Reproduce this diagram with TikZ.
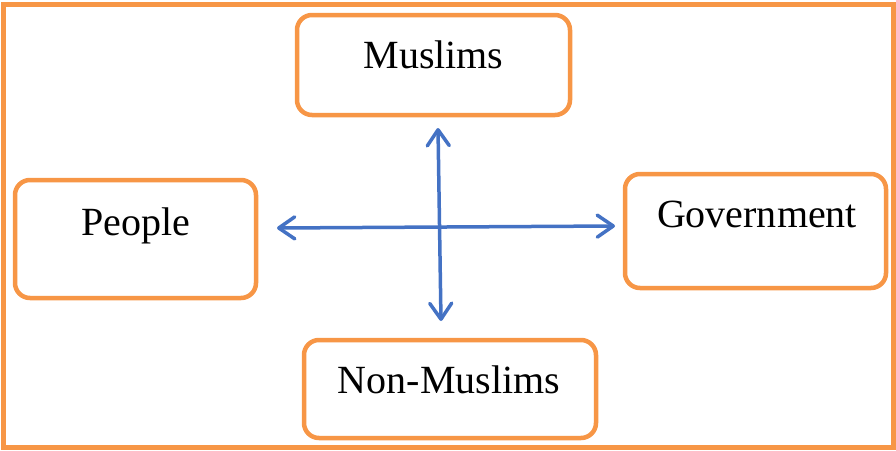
\documentclass[tikz,border=0pt]{standalone}
\usepackage{fontspec}
\setmainfont{Liberation Serif}
\usepackage{xcolor}
\usetikzlibrary{arrows.meta}
\definecolor{boxorange}{HTML}{F79646}
\definecolor{arrowblue}{HTML}{4472C4}

\begin{document}
\begin{tikzpicture}[x=1pt, y=-1pt,
    partybox/.style={draw=boxorange, line width=4.5pt, rounded corners=15pt, fill=white, inner sep=0pt},
    partytext/.style={anchor=base, inner sep=0pt, font=\fontsize{40}{40}\selectfont},
    link/.style={draw=arrowblue, line width=3.5pt, line cap=round,
      {Straight Barb[length=16pt, width=22pt, line width=3.5pt, round]}-{Straight Barb[length=16pt, width=22pt, line width=3.5pt, round]}}]
  \useasboundingbox (0,0) rectangle (896,450);
  \draw[boxorange, line width=5pt] (3,4.5) rectangle (893.5,447);
  % boxes
  \node[partybox, minimum width=273pt, minimum height=100pt] (muslims) at (433.5,65) {};
  \node[partybox, minimum width=241pt, minimum height=118pt] (people) at (135.5,239) {};
  \node[partybox, minimum width=261pt, minimum height=114pt] (govt) at (755.5,231) {};
  \node[partybox, minimum width=292pt, minimum height=98pt] (nonmuslims) at (450,389) {};
  % texts
  \node[partytext] (muslimslbl) at (433.5,68) {Muslims};
  \node[partytext] (peoplelbl) at (136,235) {People};
  \node[partytext] (govtlbl) at (757,227) {Government};
  \node[partytext] (nonmuslimslbl) at (449,393) {Non-Muslims};
  % arrows
  \coordinate (west) at (277,228);
  \coordinate (east) at (615,226);
  \coordinate (north) at (438,128);
  \coordinate (south) at (441,321);
  \draw[link] (west) -- (east);
  \draw[link] (north) -- (south);
\end{tikzpicture}
\end{document}
